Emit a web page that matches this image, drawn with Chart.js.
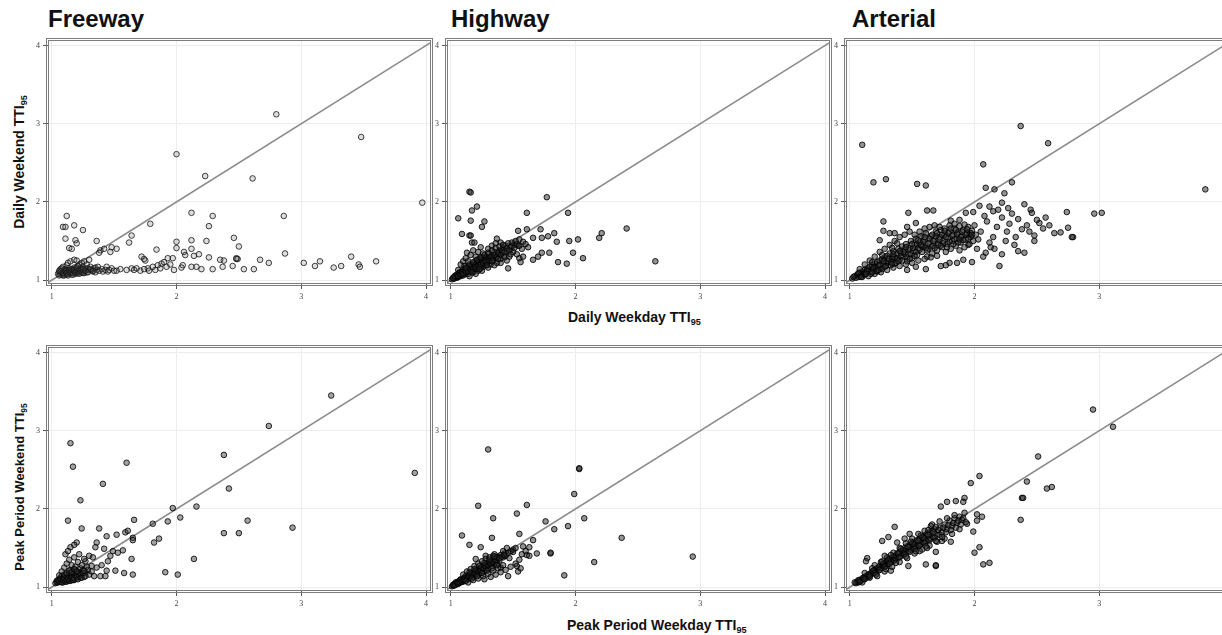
<!DOCTYPE html>
<html><head><meta charset="utf-8">
<script src="https://cdn.jsdelivr.net/npm/chart.js@4.4.1/dist/chart.umd.min.js"></script>
<style>
html,body{margin:0;padding:0;background:#fff;width:1222px;height:635px;overflow:hidden;position:relative;font-family:"Liberation Sans",Arial,sans-serif;}
canvas{position:absolute;}
.t{position:absolute;font-weight:bold;color:#111;white-space:nowrap;line-height:1;}
.title{font-size:24px;}
.yt{transform:translate(-50%,-50%) rotate(-90deg);}
sub{font-size:65%;vertical-align:-3px;line-height:0;}
</style></head><body>
<div class="t title" style="left:48px;top:7px;">Freeway</div>
<div class="t title" style="left:451px;top:7px;">Highway</div>
<div class="t title" style="left:852px;top:7px;">Arterial</div>
<div class="t yt" style="left:19px;top:162px;font-size:14px;">Daily Weekend TTI<sub>95</sub></div>
<div class="t yt" style="left:19px;top:487px;font-size:13px;">Peak Period Weekend TTI<sub>95</sub></div>
<div class="t" style="left:568px;top:310px;font-size:14px;">Daily Weekday TTI<sub>95</sub></div>
<div class="t" style="left:567px;top:618px;font-size:14px;">Peak Period Weekday TTI<sub>95</sub></div>
<script>
// ---------- data ----------
const categories = ['Freeway', 'Highway', 'Arterial'];
const tickValues = [1, 2, 3, 4];
const diagonal = [0.9, 4.1];

const freewayDaily = [
[2.80,3.12],[3.48,2.83],[2.00,2.61],[2.23,2.33],[2.61,2.30],[3.97,1.99],[2.12,1.86],[2.29,1.82],[2.86,1.82],[1.79,1.72],[2.26,1.69],[1.12,1.82],[1.09,1.68],[1.11,1.68],[1.18,1.70],[1.25,1.64],[1.11,1.53],[1.19,1.51],[1.20,1.47],[1.36,1.50],[1.64,1.57],[1.62,1.48],[2.00,1.49],[2.12,1.51],[2.24,1.50],[2.46,1.54],[2.50,1.43],[2.00,1.41],[2.12,1.40],[1.84,1.39],[1.48,1.42],[1.47,1.36],[1.14,1.41],[1.16,1.40],[1.39,1.38],[1.38,1.35],[2.06,1.36],[2.07,1.32],[2.14,1.31],[2.18,1.33],[1.72,1.30],[1.74,1.27],[1.75,1.25],[1.93,1.28],[1.97,1.28],[2.26,1.29],[2.35,1.26],[2.38,1.25],[2.48,1.27],[2.48,1.28],[2.49,1.27],[2.67,1.26],[2.87,1.34],[2.74,1.22],[3.02,1.22],[3.11,1.18],[3.15,1.24],[3.40,1.30],[3.26,1.16],[3.32,1.18],[3.46,1.20],[3.47,1.17],[3.60,1.24],[2.54,1.14],[2.62,1.14],[2.29,1.14],[2.45,1.18],[2.37,1.17],[2.05,1.19],[2.04,1.16],[1.98,1.13],[2.12,1.17],[2.16,1.17],[2.20,1.14],[1.77,1.15],[1.81,1.17],[1.85,1.19],[1.88,1.21],[1.90,1.23],[1.60,1.13],[1.64,1.15],[1.66,1.13],[1.68,1.15],[1.71,1.12],[1.74,1.14],[1.48,1.15],[1.46,1.13],[1.44,1.17],[1.40,1.14],[1.35,1.16],[1.32,1.13],[1.29,1.15],[1.27,1.12],[1.42,1.40],[1.52,1.40],[1.83,1.13],[1.87,1.15],[1.92,1.17],[1.95,1.20],[1.78,1.12],[1.52,1.12],[1.55,1.14],
[1.05,1.08],[1.06,1.10],[1.07,1.07],[1.08,1.09],[1.08,1.12],[1.09,1.06],[1.10,1.08],[1.10,1.11],[1.11,1.09],[1.11,1.14],[1.12,1.07],[1.12,1.10],[1.13,1.12],[1.13,1.08],[1.14,1.10],[1.14,1.15],[1.15,1.09],[1.15,1.12],[1.16,1.07],[1.16,1.11],[1.17,1.13],[1.17,1.09],[1.18,1.11],[1.18,1.16],[1.19,1.08],[1.19,1.12],[1.20,1.10],[1.20,1.14],[1.21,1.09],[1.21,1.18],[1.22,1.12],[1.22,1.20],[1.23,1.10],[1.23,1.15],[1.24,1.13],[1.24,1.22],[1.25,1.09],[1.25,1.17],[1.26,1.12],[1.26,1.24],[1.27,1.15],[1.28,1.10],[1.28,1.20],[1.30,1.13],[1.30,1.26],[1.31,1.17],[1.33,1.11],[1.34,1.15],[1.36,1.13],[1.37,1.17],[1.07,1.14],[1.09,1.17],[1.12,1.19],[1.13,1.22],[1.15,1.24],[1.18,1.26],[1.20,1.25],[1.10,1.13],[1.06,1.12],[1.08,1.15],
[1.06,1.06],[1.07,1.11],[1.09,1.09],[1.10,1.06],[1.11,1.12],[1.12,1.09],[1.13,1.06],[1.14,1.13],[1.15,1.10],[1.16,1.14],[1.17,1.07],[1.18,1.13],[1.19,1.10],[1.20,1.16],[1.21,1.12],[1.22,1.08],[1.23,1.13],[1.24,1.10],[1.25,1.14],[1.26,1.09],[1.27,1.12],[1.29,1.10],[1.31,1.14],[1.33,1.12],[1.35,1.10],[1.38,1.12],[1.41,1.11],[1.43,1.13],[1.45,1.11],[1.50,1.12]
];

const highwayDaily = [
[1.15,2.13],[1.16,2.12],[1.77,2.06],[1.21,1.94],[1.17,1.89],[1.61,1.86],[1.94,1.86],[1.06,1.79],[1.16,1.76],[1.27,1.75],[1.25,1.68],[1.09,1.59],[1.15,1.57],[1.16,1.57],[1.72,1.65],[1.61,1.65],[1.54,1.63],[1.83,1.60],[1.78,1.56],[1.73,1.54],[1.66,1.54],[1.85,1.49],[1.95,1.50],[2.02,1.52],[2.19,1.54],[2.21,1.60],[2.41,1.66],[1.98,1.35],[2.06,1.28],[1.79,1.35],[1.73,1.35],[1.70,1.30],[1.66,1.26],[1.86,1.23],[1.93,1.21],[2.64,1.24],[1.46,1.15],[1.37,1.53],[1.17,1.48],[1.19,1.48],[1.55,1.28],[1.56,1.23],[1.58,1.30],
[1.01,1.01],[1.02,1.03],[1.03,1.02],[1.04,1.04],[1.04,1.06],[1.05,1.03],[1.05,1.05],[1.06,1.08],[1.06,1.04],[1.07,1.06],[1.07,1.10],[1.08,1.05],[1.08,1.08],[1.09,1.07],[1.09,1.12],[1.10,1.06],[1.10,1.09],[1.11,1.11],[1.11,1.14],[1.12,1.08],[1.12,1.13],[1.13,1.10],[1.13,1.16],[1.14,1.12],[1.14,1.08],[1.15,1.14],[1.15,1.18],[1.16,1.11],[1.16,1.15],[1.17,1.20],[1.17,1.13],[1.18,1.16],[1.18,1.10],[1.19,1.18],[1.19,1.22],[1.20,1.14],[1.20,1.20],[1.21,1.17],[1.21,1.25],[1.22,1.12],[1.22,1.21],[1.23,1.19],[1.23,1.27],[1.24,1.15],[1.24,1.23],[1.25,1.20],[1.25,1.29],[1.26,1.17],[1.26,1.25],[1.27,1.22],[1.28,1.30],[1.28,1.19],[1.29,1.26],[1.30,1.23],[1.30,1.33],[1.31,1.28],[1.32,1.20],[1.33,1.31],[1.34,1.25],[1.35,1.36],[1.36,1.29],[1.37,1.22],[1.38,1.33],[1.39,1.38],[1.40,1.27],[1.41,1.35],[1.42,1.41],[1.43,1.31],[1.44,1.44],[1.45,1.37],[1.46,1.47],[1.47,1.30],[1.48,1.42],[1.49,1.48],[1.50,1.36],[1.51,1.45],[1.52,1.50],[1.53,1.33],[1.54,1.44],[1.55,1.52],[1.57,1.40],[1.58,1.49],[1.60,1.46],[1.62,1.42],[1.08,1.20],[1.10,1.24],[1.12,1.28],[1.13,1.35],[1.16,1.32],[1.18,1.38],[1.20,1.30],[1.22,1.36],[1.24,1.42],[1.26,1.34],[1.30,1.40],[1.33,1.44],[1.36,1.47],[1.40,1.48],[1.11,1.18],[1.14,1.24],[1.06,1.13],[1.15,1.05],[1.20,1.08],[1.25,1.12],[1.30,1.16],[1.35,1.19],[1.40,1.22],[1.45,1.25],
[1.02,1.02],[1.03,1.05],[1.05,1.07],[1.06,1.05],[1.07,1.09],[1.08,1.07],[1.09,1.10],[1.10,1.08],[1.11,1.13],[1.12,1.11],[1.13,1.14],[1.14,1.11],[1.15,1.16],[1.16,1.13],[1.17,1.17],[1.18,1.14],[1.19,1.19],[1.20,1.16],[1.21,1.21],[1.22,1.18],[1.23,1.23],[1.24,1.20],[1.25,1.25],[1.26,1.22],[1.27,1.27],[1.28,1.24],[1.29,1.29],[1.31,1.25],[1.32,1.30],[1.34,1.28],[1.35,1.32],[1.37,1.30],[1.38,1.35],[1.40,1.32],[1.41,1.38],[1.43,1.36],[1.45,1.40],[1.47,1.38],[1.49,1.43],[1.51,1.41],[1.53,1.46],[1.55,1.44],[1.12,1.16],[1.15,1.20],[1.18,1.23],[1.21,1.26],[1.24,1.29],[1.27,1.32],[1.30,1.35],[1.33,1.38],[1.36,1.41],[1.39,1.43],[1.42,1.45],[1.17,1.10],[1.23,1.14],[1.29,1.19],[1.33,1.24],[1.38,1.27],[1.43,1.29],[1.48,1.33]
];

const arterialDaily = [
[1.10,2.73],[2.37,2.97],[2.59,2.75],[2.07,2.48],[1.19,2.25],[1.29,2.29],[1.54,2.23],[1.61,2.21],[2.30,2.25],[2.09,2.18],[2.16,2.16],[2.24,2.11],[2.22,1.99],[3.85,2.16],[2.96,1.85],[3.02,1.86],[2.74,1.87],[2.79,1.55],[2.78,1.55],[2.75,1.67],[2.57,1.80],[2.64,1.60],[2.69,1.61],[2.52,1.73],[2.45,1.90],[2.46,1.86],[2.40,1.97],[2.48,1.57],[2.48,1.50],[2.20,1.18],[2.22,1.33],[2.07,1.30],[2.09,1.35],[2.13,1.42],[2.32,1.45],[2.35,1.37],[2.40,1.35],[1.98,1.23],[1.91,1.26],[1.86,1.22],[1.80,1.22],[1.77,1.19],[1.73,1.18],[1.53,1.17],[1.46,1.13],[1.61,1.14],[1.62,1.89],[1.67,1.89],[1.47,1.86],[1.27,1.75],[1.27,1.63],[1.46,1.68],[1.53,1.73],[1.24,1.51],[1.32,1.60],[1.36,1.60],[2.04,1.95],[1.99,1.87],[1.93,1.86],[2.12,1.94],[2.15,1.88],[2.19,1.90],[1.81,1.76],[1.88,1.77],
[2.00,1.70],[2.05,1.62],[2.10,1.75],[2.15,1.55],[2.18,1.68],[2.22,1.80],[2.26,1.62],[2.28,1.72],[2.33,1.55],[2.35,1.78],[2.38,1.65],[2.42,1.70],[2.30,1.85],[2.25,1.50],[2.12,1.48],[2.03,1.52],[1.96,1.58],[2.08,1.82],[2.44,1.62],[2.50,1.77],[2.55,1.66],[2.60,1.70],[2.16,1.40],[2.02,1.40],[1.95,1.45],[2.27,1.92],
[1.02,1.02],[1.04,1.05],[1.05,1.03],[1.06,1.07],[1.07,1.04],[1.08,1.09],[1.09,1.06],[1.10,1.11],[1.11,1.08],[1.12,1.13],[1.13,1.10],[1.14,1.15],[1.15,1.12],[1.16,1.17],[1.17,1.11],[1.18,1.19],[1.19,1.14],[1.20,1.21],[1.21,1.16],[1.22,1.23],[1.23,1.18],[1.24,1.25],[1.25,1.15],[1.26,1.27],[1.27,1.20],[1.28,1.29],[1.29,1.22],[1.30,1.31],[1.31,1.24],[1.32,1.34],[1.33,1.19],[1.34,1.27],[1.35,1.37],[1.36,1.29],[1.37,1.22],[1.38,1.33],[1.39,1.40],[1.40,1.26],[1.41,1.35],[1.42,1.43],[1.43,1.30],[1.44,1.38],[1.45,1.46],[1.46,1.24],[1.47,1.33],[1.48,1.41],[1.49,1.50],[1.50,1.28],[1.51,1.37],[1.52,1.45],[1.53,1.53],[1.54,1.32],[1.55,1.41],[1.56,1.48],[1.57,1.56],[1.58,1.36],[1.59,1.44],[1.60,1.52],[1.61,1.60],[1.62,1.30],[1.63,1.40],[1.64,1.48],[1.65,1.56],[1.66,1.34],[1.67,1.44],[1.68,1.52],[1.69,1.62],[1.70,1.38],[1.71,1.47],[1.72,1.55],[1.73,1.64],[1.74,1.42],[1.75,1.50],[1.76,1.58],[1.77,1.36],[1.78,1.46],[1.79,1.54],[1.80,1.62],[1.81,1.40],[1.82,1.50],[1.83,1.58],[1.84,1.66],[1.85,1.44],[1.86,1.53],[1.87,1.61],[1.88,1.38],[1.89,1.48],[1.90,1.56],[1.91,1.64],[1.92,1.42],[1.93,1.52],[1.94,1.60],[1.95,1.68],[1.96,1.46],[1.97,1.55],[1.98,1.63],[1.99,1.50],[2.01,1.58],
[1.12,1.20],[1.16,1.25],[1.20,1.30],[1.24,1.36],[1.28,1.40],[1.32,1.45],[1.36,1.50],[1.40,1.55],[1.44,1.58],[1.48,1.62],[1.15,1.05],[1.20,1.08],[1.25,1.10],[1.30,1.13],[1.35,1.16],[1.40,1.18],[1.45,1.20],[1.50,1.22],[1.55,1.25],[1.60,1.27],[1.65,1.29],[1.70,1.31],[1.08,1.14],[1.10,1.04],[1.18,1.23],[1.22,1.11],[1.26,1.32],[1.34,1.41],[1.38,1.47],[1.52,1.58],[1.56,1.62],[1.60,1.66],[1.64,1.68],[1.68,1.70],[1.72,1.68],[1.76,1.66],[1.80,1.70],[1.84,1.72],[1.88,1.69],[1.92,1.71],
[1.03,1.04],[1.07,1.09],[1.09,1.04],[1.12,1.07],[1.14,1.12],[1.17,1.08],[1.19,1.16],[1.21,1.12],[1.24,1.19],[1.26,1.14],[1.27,1.24],[1.29,1.18],[1.31,1.27],[1.33,1.23],[1.35,1.30],[1.36,1.21],[1.38,1.28],[1.41,1.31],[1.42,1.25],[1.44,1.34],[1.46,1.29],[1.47,1.39],[1.49,1.33],[1.51,1.41],[1.53,1.36],[1.54,1.46],[1.56,1.39],[1.58,1.43],[1.59,1.49],[1.61,1.41],[1.63,1.47],[1.64,1.53],[1.66,1.43],[1.67,1.50],[1.69,1.56],[1.71,1.45],[1.72,1.52],[1.74,1.58],[1.75,1.47],[1.77,1.55],[1.79,1.60],[1.80,1.49],[1.82,1.57],[1.84,1.52],[1.86,1.59],[1.87,1.48],[1.89,1.55],[1.91,1.51],[1.93,1.58],[1.95,1.53],[1.97,1.60],[1.43,1.36],[1.57,1.45],[1.62,1.38],[1.68,1.41],[1.73,1.44],[1.78,1.42],[1.83,1.46],[1.88,1.52],[1.52,1.31],[1.48,1.27],[1.39,1.24],[1.34,1.21],[1.28,1.17],[1.23,1.13],[1.18,1.10],[1.13,1.08],[1.66,1.58],[1.70,1.60],[1.76,1.63],[1.81,1.66],[1.85,1.64],[1.90,1.62],[1.94,1.65],[1.98,1.58],[1.60,1.55],[1.55,1.51],[1.50,1.46],[1.45,1.42],[1.40,1.37],[1.35,1.33]
];

const freewayPeak = [
[3.24,3.45],[2.74,3.06],[1.15,2.84],[1.17,2.54],[1.60,2.59],[1.41,2.32],[2.38,2.69],[3.91,2.46],[2.42,2.26],[1.23,2.11],[1.97,2.01],[2.16,2.03],[1.13,1.85],[1.66,1.86],[1.81,1.81],[1.93,1.84],[2.03,1.89],[2.57,1.85],[2.93,1.76],[2.38,1.69],[2.50,1.69],[1.24,1.75],[1.38,1.75],[1.44,1.65],[1.52,1.67],[1.59,1.70],[1.61,1.72],[1.65,1.63],[1.65,1.60],[1.82,1.57],[1.86,1.62],[1.20,1.57],[1.18,1.54],[1.15,1.51],[1.36,1.57],[1.35,1.51],[1.42,1.49],[1.49,1.46],[1.57,1.47],[1.64,1.36],[1.51,1.21],[1.58,1.18],[1.65,1.16],[1.44,1.21],[1.39,1.14],[1.43,1.14],[2.14,1.36],[1.91,1.19],[2.01,1.16],[1.34,1.14],[1.30,1.40],[1.27,1.33],[1.33,1.38],[1.47,1.40],[1.53,1.44],[1.40,1.28],[1.36,1.25],[1.32,1.27],[1.29,1.22],[1.45,1.33],
[1.03,1.05],[1.04,1.08],[1.05,1.06],[1.06,1.10],[1.07,1.07],[1.07,1.12],[1.08,1.09],[1.08,1.14],[1.09,1.06],[1.09,1.11],[1.10,1.08],[1.10,1.13],[1.11,1.10],[1.11,1.16],[1.12,1.07],[1.12,1.12],[1.13,1.09],[1.13,1.14],[1.14,1.11],[1.14,1.18],[1.15,1.08],[1.15,1.13],[1.16,1.10],[1.16,1.16],[1.17,1.12],[1.17,1.20],[1.18,1.09],[1.18,1.15],[1.19,1.13],[1.19,1.22],[1.20,1.11],[1.20,1.17],[1.21,1.14],[1.22,1.19],[1.23,1.12],[1.23,1.24],[1.24,1.16],[1.25,1.21],[1.26,1.13],[1.27,1.18],[1.28,1.26],[1.08,1.20],[1.10,1.25],[1.12,1.30],[1.14,1.35],[1.16,1.28],[1.18,1.38],[1.21,1.32],[1.24,1.28],[1.26,1.36],[1.11,1.42],[1.13,1.46],[1.22,1.42],[1.19,1.26],[1.06,1.15],[1.15,1.22],[1.30,1.16],[1.32,1.20],
[1.04,1.06],[1.05,1.09],[1.06,1.07],[1.07,1.10],[1.08,1.06],[1.09,1.09],[1.10,1.11],[1.11,1.07],[1.12,1.09],[1.13,1.11],[1.14,1.08],[1.15,1.10],[1.16,1.12],[1.17,1.09],[1.18,1.11],[1.19,1.15],[1.20,1.13],[1.21,1.10],[1.22,1.15],[1.23,1.17],[1.24,1.12],[1.25,1.18],[1.26,1.21],[1.27,1.14],[1.10,1.16],[1.12,1.18],[1.14,1.21],[1.16,1.19],[1.18,1.23],[1.20,1.20]
];

const highwayPeak = [
[1.30,2.76],[2.03,2.51],[2.03,2.52],[1.99,2.19],[1.22,2.04],[1.61,2.05],[1.53,1.94],[1.34,1.88],[2.07,1.88],[1.76,1.84],[1.94,1.78],[1.83,1.74],[2.37,1.63],[1.09,1.66],[1.33,1.63],[1.55,1.68],[1.15,1.54],[1.24,1.51],[1.66,1.60],[1.63,1.51],[1.69,1.43],[1.61,1.41],[1.55,1.35],[1.80,1.43],[1.80,1.44],[2.94,1.39],[2.15,1.32],[1.91,1.15],[1.46,1.14],[1.53,1.27],[1.54,1.20],[1.40,1.25],[1.37,1.30],[1.47,1.37],[1.50,1.45],[1.58,1.52],[1.45,1.50],[1.42,1.46],[1.35,1.42],[1.28,1.40],[1.20,1.36],
[1.01,1.01],[1.02,1.02],[1.03,1.04],[1.04,1.03],[1.04,1.06],[1.05,1.05],[1.06,1.07],[1.06,1.04],[1.07,1.08],[1.08,1.06],[1.08,1.10],[1.09,1.08],[1.10,1.11],[1.10,1.07],[1.11,1.12],[1.12,1.10],[1.12,1.14],[1.13,1.12],[1.14,1.15],[1.14,1.10],[1.15,1.16],[1.16,1.13],[1.16,1.18],[1.17,1.15],[1.18,1.19],[1.18,1.13],[1.19,1.20],[1.20,1.17],[1.20,1.22],[1.21,1.19],[1.22,1.23],[1.22,1.15],[1.23,1.21],[1.24,1.25],[1.24,1.18],[1.25,1.23],[1.26,1.27],[1.26,1.20],[1.27,1.25],[1.28,1.29],[1.28,1.22],[1.29,1.27],[1.30,1.31],[1.30,1.24],[1.31,1.29],[1.32,1.33],[1.33,1.27],[1.34,1.35],[1.35,1.30],[1.36,1.37],[1.37,1.33],[1.38,1.39],[1.39,1.34],[1.40,1.41],[1.42,1.38],[1.43,1.43],[1.44,1.40],[1.46,1.44],[1.48,1.46],[1.50,1.48],[1.52,1.50],[1.10,1.16],[1.13,1.20],[1.16,1.23],[1.19,1.27],[1.22,1.30],[1.25,1.33],[1.28,1.36],[1.31,1.38],[1.34,1.40],[1.14,1.06],[1.18,1.09],[1.22,1.11],[1.26,1.14],[1.30,1.17],[1.34,1.21],[1.38,1.24],[1.42,1.28],[1.27,1.10],[1.32,1.13],[1.36,1.16],[1.40,1.19],[1.44,1.22],[1.48,1.26],[1.52,1.30],[1.56,1.24],[1.57,1.42],[1.60,1.46],[1.63,1.40],
[1.02,1.03],[1.03,1.02],[1.05,1.06],[1.06,1.05],[1.07,1.06],[1.08,1.09],[1.09,1.07],[1.10,1.09],[1.11,1.10],[1.12,1.12],[1.13,1.11],[1.14,1.13],[1.15,1.14],[1.16,1.15],[1.17,1.17],[1.18,1.16],[1.19,1.18],[1.20,1.19],[1.21,1.21],[1.22,1.20],[1.23,1.22],[1.24,1.23],[1.25,1.25],[1.26,1.24],[1.27,1.28],[1.28,1.26],[1.29,1.30],[1.30,1.28],[1.31,1.32],[1.32,1.30],[1.33,1.34],[1.34,1.32],[1.35,1.36],[1.36,1.34],[1.37,1.38],[1.39,1.37],[1.41,1.39],[1.43,1.41],[1.12,1.08],[1.17,1.11],[1.21,1.14],[1.25,1.18],[1.29,1.21],[1.33,1.24],[1.37,1.28],[1.15,1.19],[1.19,1.23],[1.23,1.27],[1.27,1.31],[1.31,1.35],[1.35,1.39]
];

const arterialPeak = [
[2.95,3.27],[3.11,3.05],[2.51,2.67],[2.04,2.42],[1.97,2.33],[2.42,2.35],[2.58,2.26],[2.62,2.28],[2.38,2.14],[2.39,2.14],[2.37,1.86],[1.92,2.14],[1.91,2.09],[1.85,2.10],[1.78,2.09],[1.73,2.03],[2.02,1.93],[2.06,1.90],[2.02,1.85],[1.94,1.81],[1.99,1.71],[2.00,1.44],[2.04,1.51],[2.07,1.29],[2.12,1.31],[1.81,1.58],[1.74,1.59],[1.69,1.27],[1.69,1.28],[1.61,1.29],[1.47,1.27],[1.69,1.45],[1.26,1.59],[1.31,1.64],[1.36,1.77],[1.14,1.37],[1.13,1.33],[1.33,1.21],
[1.05,1.05],[1.06,1.07],[1.07,1.06],[1.08,1.09],[1.09,1.08],[1.10,1.11],[1.11,1.10],[1.12,1.13],[1.13,1.12],[1.14,1.15],[1.15,1.13],[1.16,1.17],[1.17,1.16],[1.18,1.20],[1.19,1.18],[1.20,1.22],[1.21,1.20],[1.22,1.24],[1.23,1.21],[1.24,1.27],[1.25,1.24],[1.26,1.29],[1.27,1.26],[1.28,1.31],[1.29,1.27],[1.30,1.33],[1.31,1.30],[1.32,1.36],[1.33,1.32],[1.34,1.38],[1.35,1.34],[1.36,1.40],[1.37,1.36],[1.38,1.43],[1.39,1.38],[1.40,1.45],[1.41,1.40],[1.42,1.47],[1.43,1.42],[1.44,1.50],[1.45,1.44],[1.46,1.52],[1.47,1.46],[1.48,1.54],[1.49,1.48],[1.50,1.56],[1.51,1.50],[1.52,1.58],[1.53,1.52],[1.54,1.60],[1.55,1.54],[1.56,1.62],[1.57,1.55],[1.58,1.64],[1.59,1.57],[1.60,1.66],[1.61,1.59],[1.62,1.68],[1.63,1.61],[1.64,1.70],[1.65,1.62],[1.66,1.72],[1.67,1.64],[1.68,1.74],[1.70,1.66],[1.72,1.76],[1.74,1.70],[1.76,1.80],[1.78,1.74],[1.80,1.85],[1.82,1.78],[1.84,1.88],[1.86,1.82],[1.88,1.90],[1.90,1.86],[1.92,1.95],[1.20,1.28],[1.25,1.32],[1.30,1.38],[1.35,1.44],[1.40,1.50],[1.45,1.56],[1.50,1.62],[1.55,1.68],[1.60,1.72],[1.65,1.78],[1.22,1.14],[1.28,1.20],[1.34,1.26],[1.40,1.32],[1.46,1.37],[1.52,1.43],[1.58,1.48],[1.64,1.53],[1.70,1.58],[1.76,1.62],[1.82,1.68],[1.88,1.74],[1.12,1.18],[1.16,1.12],[1.18,1.24],[1.10,1.06],[1.44,1.62],[1.48,1.68],[1.38,1.57],[1.28,1.40],[1.56,1.46],[1.62,1.50],[1.66,1.80],[1.72,1.84],[1.78,1.88],[1.84,1.92],
[1.04,1.06],[1.07,1.09],[1.08,1.07],[1.11,1.12],[1.12,1.10],[1.15,1.16],[1.16,1.14],[1.19,1.21],[1.20,1.18],[1.23,1.25],[1.24,1.22],[1.27,1.30],[1.28,1.26],[1.31,1.34],[1.32,1.30],[1.35,1.39],[1.36,1.34],[1.39,1.43],[1.40,1.38],[1.43,1.47],[1.44,1.42],[1.47,1.51],[1.48,1.45],[1.51,1.55],[1.52,1.49],[1.55,1.59],[1.56,1.53],[1.59,1.63],[1.60,1.56],[1.63,1.67],[1.64,1.60],[1.67,1.70],[1.68,1.63],[1.71,1.73],[1.72,1.67],[1.75,1.76],[1.77,1.70],[1.79,1.79],[1.81,1.73],[1.83,1.82],[1.85,1.76],[1.87,1.85],[1.89,1.80],[1.91,1.88],[1.93,1.83],[1.26,1.33],[1.33,1.41],[1.41,1.49],[1.49,1.58],[1.57,1.66],[1.63,1.73],[1.69,1.77],[1.21,1.16],[1.29,1.23],[1.37,1.31],[1.45,1.39],[1.53,1.46],[1.61,1.52],[1.69,1.59],[1.74,1.64]
];

// ---------- layout ----------
const xMin = 0.97, xMax = 4.04, yMin = 0.95, yMax = 4.07;
const colLeft = [48, 447, 846];
const rowTop = [40, 347];
const plotW = 384, plotH = 244;
const padL = 18, padT = 8, padR = 4, padB = 20;

const panels = [
  {data: freewayDaily, col: 0, row: 0, fill: 'rgba(90,90,90,0.2)', line: 'rgba(20,20,20,0.8)'},
  {data: highwayDaily, col: 1, row: 0, fill: 'rgba(40,40,40,0.5)', line: 'rgba(0,0,0,0.85)'},
  {data: arterialDaily, col: 2, row: 0, fill: 'rgba(40,40,40,0.5)', line: 'rgba(0,0,0,0.85)'},
  {data: freewayPeak, col: 0, row: 1, fill: 'rgba(50,50,50,0.45)', line: 'rgba(0,0,0,0.82)'},
  {data: highwayPeak, col: 1, row: 1, fill: 'rgba(40,40,40,0.5)', line: 'rgba(0,0,0,0.85)'},
  {data: arterialPeak, col: 2, row: 1, fill: 'rgba(40,40,40,0.5)', line: 'rgba(0,0,0,0.85)'}
];

const framePlugin = {
  id: 'frame',
  afterDatasetsDraw(chart) {
    const a = chart.chartArea, ctx = chart.ctx;
    ctx.save();
    ctx.strokeStyle = '#7d7d7d';
    ctx.lineWidth = 1;
    ctx.strokeRect(a.left - 1.5, a.top - 1.5, a.right - a.left + 3, a.bottom - a.top + 3);
    ctx.strokeRect(a.left + 0.5, a.top + 0.5, a.right - a.left - 1, a.bottom - a.top - 1);
    ctx.restore();
  }
};

const tickFont = {family: 'Liberation Serif', size: 8};
const setTicks = s => { s.ticks = tickValues.map(v => ({value: v})); };

panels.forEach(p => {
  const cv = document.createElement('canvas');
  cv.width = padL + plotW + padR;
  cv.height = padT + plotH + padB;
  cv.style.left = (colLeft[p.col] - padL) + 'px';
  cv.style.top = (rowTop[p.row] - padT) + 'px';
  cv.style.width = cv.width + 'px';
  cv.style.height = cv.height + 'px';
  document.body.appendChild(cv);
  new Chart(cv, {
    type: 'scatter',
    data: {
      datasets: [
        {type: 'line', data: diagonal.map(v => ({x: v, y: v})), borderColor: '#8a8a8a', borderWidth: 1.6, pointRadius: 0, order: 2},
        {data: p.data.map(d => ({x: d[0], y: d[1]})), pointRadius: 2.8, borderWidth: 1,
         borderColor: p.line, backgroundColor: p.fill, order: 1}
      ]
    },
    options: {
      responsive: false, animation: false, events: [],
      layout: {padding: {top: padT, left: 0, right: padR, bottom: 0}},
      plugins: {legend: {display: false}, tooltip: {enabled: false}},
      scales: {
        x: {
          type: 'linear', min: xMin, max: xMax,
          afterBuildTicks: setTicks,
          afterFit: s => { s.height = padB; s.paddingLeft = 0; s.paddingRight = 0; s.paddingTop = 0; s.paddingBottom = 0; },
          ticks: {font: tickFont, color: '#444', padding: 3, maxRotation: 0, autoSkip: false},
          grid: {color: '#ededed', tickColor: '#555', tickLength: 5},
          border: {display: false}
        },
        y: {
          type: 'linear', min: yMin, max: yMax,
          afterBuildTicks: setTicks,
          afterFit: s => { s.width = padL; s.paddingLeft = 0; s.paddingRight = 0; s.paddingTop = 0; s.paddingBottom = 0; },
          ticks: {font: tickFont, color: '#444', padding: 3, autoSkip: false},
          grid: {color: '#ededed', tickColor: '#555', tickLength: 5},
          border: {display: false}
        }
      }
    },
    plugins: [framePlugin]
  });
});
</script>
</body></html>
